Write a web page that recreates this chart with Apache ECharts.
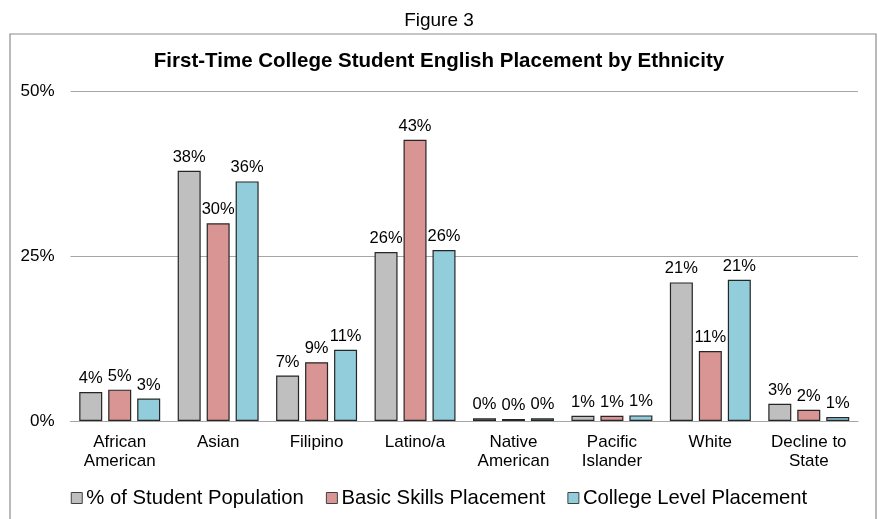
<!DOCTYPE html>
<html>
<head>
<meta charset="utf-8">
<script src="https://cdn.jsdelivr.net/npm/echarts@6/dist/echarts.min.js"></script>
<style>
html,body{margin:0;padding:0;background:#fff;}
#c{width:878px;height:519px;}
</style>
</head>
<body>
<div id="c"></div>
<script>
var categories = ['African\nAmerican', 'Asian', 'Filipino', 'Latino/a', 'Native\nAmerican', 'Pacific\nIslander', 'White', 'Decline to\nState'];
var seriesNames = ['% of Student Population', 'Basic Skills Placement', 'College Level Placement'];
var studentPop = [4.4, 37.9, 6.9, 25.6, 0.4, 0.8, 21.0, 2.6];
var basicSkills = [4.75, 29.95, 8.9, 42.6, 0.3, 0.8, 10.6, 1.7];
var collegeLevel = [3.4, 36.3, 10.8, 25.9, 0.4, 0.85, 21.4, 0.6];
var yTicks = [0, 25, 50];

var colors = ['#BFBFBF', '#D99594', '#92CDDC'];
var FONT = '"Liberation Sans", Arial, sans-serif';

var chart = echarts.init(document.getElementById('c'), null, {renderer: 'canvas'});

function mkSeries(name, data, color) {
  return {
    name: name,
    type: 'bar',
    data: data,
    barWidth: 23,
    barGap: '26%',
    itemStyle: {color: color, borderColor: '#262626', borderWidth: 1.2},
    label: {
      show: true,
      position: 'top',
      distance: 5,
      fontFamily: FONT,
      fontSize: 16.5,
      color: '#000',
      formatter: function (p) { return Math.round(p.value) + '%'; }
    },
    emphasis: {disabled: true}
  };
}

chart.setOption({
  animation: false,
  textStyle: {fontFamily: FONT},
  graphic: [{
    type: 'rect',
    shape: {x: 10, y: 34, width: 866, height: 500},
    style: {fill: 'none', stroke: '#8C8C8C', lineWidth: 1.2},
    silent: true,
    z: -1
  }],
  title: [{
    text: 'Figure 3',
    left: 'center',
    top: 6,
    textStyle: {fontFamily: FONT, fontSize: 19, fontWeight: 'normal', color: '#000'}
  }, {
    text: 'First-Time College Student English Placement by Ethnicity',
    left: 'center',
    top: 46,
    textStyle: {fontFamily: FONT, fontSize: 20.5, fontWeight: 'bold', color: '#000'}
  }],
  legend: {
    bottom: 6,
    left: 'center',
    itemWidth: 11,
    itemHeight: 11,
    itemGap: 22,
    icon: 'rect',
    itemStyle: {borderColor: '#404040', borderWidth: 1},
    textStyle: {fontFamily: FONT, fontSize: 20.3, color: '#000', padding: [0, 0, 0, -1]},
    data: seriesNames
  },
  grid: {left: 70.5, right: 20, top: 91, bottom: 98, containLabel: false},
  xAxis: {
    type: 'category',
    data: categories,
    axisLine: {show: true, lineStyle: {color: '#A6A6A6', width: 1.2}},
    axisTick: {show: false},
    axisLabel: {fontFamily: FONT, fontSize: 17, color: '#000', margin: 12, lineHeight: 19, interval: 0}
  },
  yAxis: {
    type: 'value',
    min: yTicks[0],
    max: yTicks[yTicks.length - 1],
    interval: yTicks[1] - yTicks[0],
    axisLine: {show: false},
    axisTick: {show: false},
    splitLine: {lineStyle: {color: '#A6A6A6', width: 1.2}},
    axisLabel: {fontFamily: FONT, fontSize: 17, color: '#000', margin: 16, formatter: '{value}%'}
  },
  series: [
    mkSeries(seriesNames[0], studentPop, colors[0]),
    mkSeries(seriesNames[1], basicSkills, colors[1]),
    mkSeries(seriesNames[2], collegeLevel, colors[2])
  ]
});
</script>
</body>
</html>
